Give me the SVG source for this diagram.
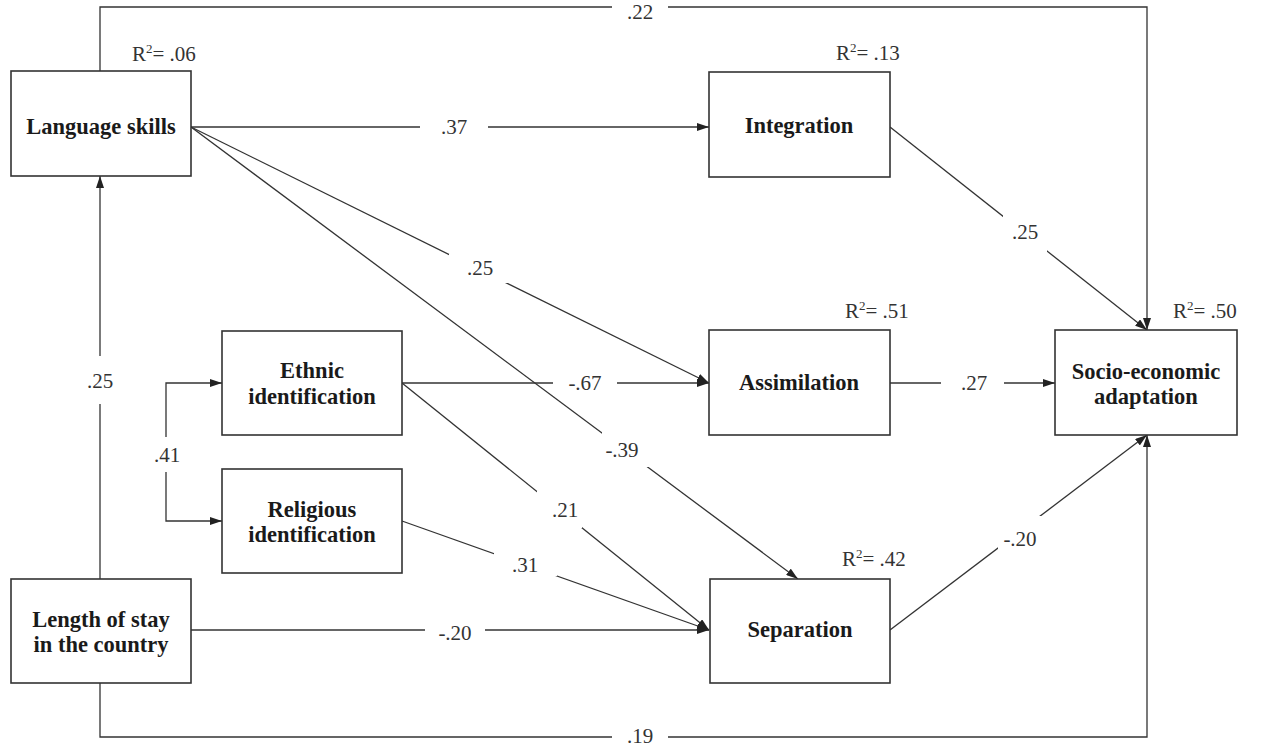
<svg xmlns="http://www.w3.org/2000/svg" width="1263" height="746" viewBox="0 0 1263 746">
<defs>
<style>
.box{fill:#fff;stroke:#333;stroke-width:1.6}
.lbl{font-family:"Liberation Serif","Times New Roman",serif;font-weight:bold;font-size:22.5px;fill:#1a1a1a;text-anchor:middle}
.num{font-family:"Liberation Serif","Times New Roman",serif;font-size:21px;fill:#333;text-anchor:middle}
.r2{font-family:"Liberation Serif","Times New Roman",serif;font-size:21px;fill:#333}
.sup{font-size:13px}
.ln{fill:none;stroke:#333;stroke-width:1.3}
.arr{fill:none;stroke:#333;stroke-width:1.3;marker-end:url(#ah)}
.gap{fill:#fff}
</style>
<marker id="ah" viewBox="0 0 12 8" refX="12" refY="4" markerWidth="12" markerHeight="8" markerUnits="userSpaceOnUse" orient="auto">
<path d="M0,0 L12,4 L0,8 z" fill="#222"/>
</marker>
</defs>
<rect width="1263" height="746" fill="#fff"/>

<g id="connectors">
<polyline class="arr" points="100,71 100,7 1147,7 1147,330"/>
<line class="arr" x1="191" y1="127" x2="709" y2="127"/>
<line class="arr" x1="890" y1="127" x2="1147" y2="330"/>
<line class="arr" x1="191" y1="127" x2="709" y2="383"/>
<line class="arr" x1="191" y1="127" x2="798" y2="579"/>
<line class="arr" x1="402" y1="383" x2="709" y2="383"/>
<line class="arr" x1="402" y1="383" x2="709" y2="630"/>
<line class="arr" x1="402" y1="521" x2="709" y2="630"/>
<line class="arr" x1="191" y1="630" x2="709" y2="630"/>
<line class="arr" x1="890" y1="383" x2="1055" y2="383"/>
<line class="arr" x1="890" y1="630" x2="1147" y2="435"/>
<line class="arr" x1="100" y1="579" x2="100" y2="176"/>
<polyline class="arr" points="100,683 100,737 1147,737 1147,435"/>
<polyline class="arr" points="166,437 166,383 222,383"/>
<polyline class="arr" points="166,472 166,521 222,521"/>
</g>

<g id="path-labels">
<rect class="gap" x="612" y="0" width="56" height="22"/>
<text class="num" x="640" y="19">.22</text>
<rect class="gap" x="420" y="114" width="68" height="26"/>
<text class="num" x="454" y="134">.37</text>
<rect class="gap" x="449" y="254" width="62" height="29"/>
<text class="num" x="480" y="275">.25</text>
<rect class="gap" x="1003" y="212" width="44" height="40"/>
<text class="num" x="1025" y="239">.25</text>
<rect class="gap" x="553" y="370" width="64" height="26"/>
<text class="num" x="585" y="390">-.67</text>
<rect class="gap" x="941" y="370" width="63" height="26"/>
<text class="num" x="974" y="390">.27</text>
<rect class="gap" x="602" y="431" width="49" height="36"/>
<text class="num" x="622" y="457">-.39</text>
<rect class="gap" x="537" y="491" width="45" height="37"/>
<text class="num" x="565" y="517">.21</text>
<rect class="gap" x="494" y="553" width="63" height="23"/>
<text class="num" x="525" y="572">.31</text>
<rect class="gap" x="425" y="618" width="60" height="24"/>
<text class="num" x="455" y="640">-.20</text>
<rect class="gap" x="998" y="516" width="44" height="40"/>
<text class="num" x="1020" y="546">-.20</text>
<rect class="gap" x="84" y="356" width="32" height="48"/>
<text class="num" x="100" y="388">.25</text>
<rect class="gap" x="150" y="437" width="34" height="35"/>
<text class="num" x="167" y="462">.41</text>
<rect class="gap" x="612" y="728" width="56" height="18"/>
<text class="num" x="640" y="743">.19</text>
</g>

<g id="r2-labels">
<text class="r2" x="132" y="61">R<tspan class="sup" dy="-8">2</tspan><tspan dy="8">= .06</tspan></text>
<text class="r2" x="836" y="60">R<tspan class="sup" dy="-8">2</tspan><tspan dy="8">= .13</tspan></text>
<text class="r2" x="845" y="318">R<tspan class="sup" dy="-8">2</tspan><tspan dy="8">= .51</tspan></text>
<text class="r2" x="1173" y="318">R<tspan class="sup" dy="-8">2</tspan><tspan dy="8">= .50</tspan></text>
<text class="r2" x="842" y="566">R<tspan class="sup" dy="-8">2</tspan><tspan dy="8">= .42</tspan></text>
</g>

<g id="language-skills">
<rect class="box" x="11" y="71" width="180" height="105"/>
<text class="lbl" x="101" y="134">Language skills</text>
</g>
<g id="integration">
<rect class="box" x="709" y="72" width="181" height="105"/>
<text class="lbl" x="799" y="133">Integration</text>
</g>
<g id="assimilation">
<rect class="box" x="709" y="330" width="181" height="105"/>
<text class="lbl" x="799" y="390">Assimilation</text>
</g>
<g id="socio-economic-adaptation">
<rect class="box" x="1055" y="330" width="182" height="105"/>
<text class="lbl" x="1146" y="379">Socio-economic</text>
<text class="lbl" x="1146" y="404">adaptation</text>
</g>
<g id="ethnic-identification">
<rect class="box" x="222" y="331" width="180" height="104"/>
<text class="lbl" x="312" y="378">Ethnic</text>
<text class="lbl" x="312" y="404">identification</text>
</g>
<g id="religious-identification">
<rect class="box" x="222" y="469" width="180" height="104"/>
<text class="lbl" x="312" y="517">Religious</text>
<text class="lbl" x="312" y="542">identification</text>
</g>
<g id="separation">
<rect class="box" x="710" y="579" width="180" height="104"/>
<text class="lbl" x="800" y="637">Separation</text>
</g>
<g id="length-of-stay">
<rect class="box" x="11" y="579" width="180" height="104"/>
<text class="lbl" x="101" y="627">Length of stay</text>
<text class="lbl" x="101" y="652">in the country</text>
</g>
</svg>
